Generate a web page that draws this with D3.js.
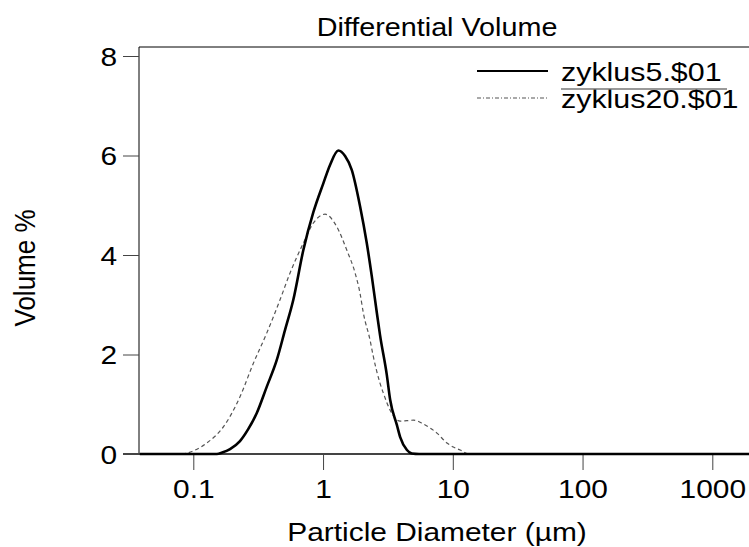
<!DOCTYPE html>
<html>
<head>
<meta charset="utf-8">
<script src="https://cdn.jsdelivr.net/npm/d3@7"></script>
<style>
  body { margin: 0; background: #fff; }
  text { font-family: "Liberation Sans", Arial, sans-serif; fill: #000; }
</style>
</head>
<body>
<svg id="chart" width="749" height="547"></svg>
<script>
// particle diameter (um) and volume %
let diam5 = [0.0387, 0.152, 0.167, 0.192, 0.229, 0.265, 0.308, 0.368, 0.44, 0.509, 0.59, 0.705, 0.842, 1.005, 1.132, 1.311,
	1.478, 1.664, 1.928, 2.172, 2.373, 2.594, 2.749, 3.10, 3.29, 3.71, 3.93, 4.43, 4.84, 5.5, 2000];
let vol5 = [0, 0, 0.03, 0.10, 0.26, 0.50, 0.82, 1.35, 1.89, 2.49, 3.10, 4.10, 4.86, 5.44, 5.81, 6.10,
	5.99, 5.71, 4.98, 4.24, 3.58, 2.85, 2.39, 1.59, 1.09, 0.58, 0.34, 0.08, 0.01, 0, 0];

let diam20 = [0.0387, 0.0841, 0.1035, 0.127, 0.171, 0.229, 0.29, 0.368, 0.466, 0.557, 0.705, 0.841, 1.036, 1.275,
	1.523, 1.765, 1.928, 2.046, 2.303, 2.44, 2.75, 2.92, 3.29, 3.93, 4.43, 4.98, 5.95, 7.55, 9.02, 10.1, 11.4, 12.85, 14, 2000];
let vol20 = [0, 0.01, 0.08, 0.22, 0.55, 1.15, 1.82, 2.43, 3.10, 3.64, 4.24, 4.64, 4.82, 4.57,
	4.10, 3.64, 3.23, 2.83, 2.29, 1.96, 1.42, 1.22, 0.88, 0.66, 0.67, 0.68, 0.60, 0.42, 0.22, 0.14, 0.08, 0.01, 0, 0];

let x_ticks = [0.1, 1, 10, 100, 1000];
let y_ticks = [0, 2, 4, 6, 8];
let series_names = ["zyklus5.$01", "zyklus20.$01"];

let m_left = 139, m_right = 752, m_top = 47, m_bottom = 454;
// the source picture is a bit wider than tall, so text gets stretched
let sx = 1.15;

let svg = d3.select("#chart");

let xScale = d3.scaleLog()
	.domain([0.1, 1000])
	.range([193.3, 712.3]);
let yScale = d3.scaleLinear()
	.domain([0, 8])
	.range([m_bottom, 56]);

// frame
svg.append("path")
	.attr("d", `M${m_left},${m_bottom}V${m_top}H${m_right}`)
	.style("fill", "none")
	.style("stroke", "#000")
	.style("stroke-width", "1px");

// y axis
let yAxis = svg.append("g")
	.attr("transform", `translate(${m_left},0)`)
	.call(d3.axisLeft(yScale).tickValues(y_ticks).tickSize(16).tickPadding(6).tickFormat(d3.format("d")));
yAxis.select(".domain").remove();
yAxis.selectAll("line").style("stroke", "#444");
yAxis.selectAll("text")
	.style("font-size", "26px")
	.attr("dy", "0.36em")
	.attr("x", -22 / sx)
	.attr("transform", `scale(${sx},1)`)
	.attr("font-family", null);

// x axis
let xAxis = svg.append("g")
	.attr("transform", `translate(0,${m_bottom})`)
	.call(d3.axisBottom(xScale).tickValues(x_ticks).tickSize(16).tickPadding(10).tickFormat(d => d));
xAxis.select(".domain")
	.attr("d", `M${m_left - 16},0H${m_right}`)
	.style("stroke", "#444")
	.style("stroke-width", "2px");
xAxis.selectAll("line").style("stroke", "#444");
xAxis.selectAll("text")
	.style("font-size", "26px")
	.attr("transform", `scale(${sx},1)`)
	.attr("font-family", null);

// curves
let line = d3.line()
	.x(d => xScale(d[0]))
	.y(d => yScale(d[1]))
	.curve(d3.curveMonotoneX);

svg.append("path")
	.datum(diam20.map((d, i) => [d, vol20[i]]))
	.attr("d", line)
	.style("fill", "none")
	.style("stroke", "#555")
	.style("stroke-width", "1.2px")
	.style("stroke-dasharray", "4,3");

svg.append("path")
	.datum(diam5.map((d, i) => [d, vol5[i]]))
	.attr("d", line)
	.style("fill", "none")
	.style("stroke", "#000")
	.style("stroke-width", "2.6px");

// legend
let legend = svg.append("g");
series_names.forEach((name, i) => {
	let ly = 71 + i * 27;
	legend.append("line")
		.attr("x1", 477).attr("x2", 548)
		.attr("y1", ly).attr("y2", ly)
		.style("stroke", i == 0 ? "#000" : "#555")
		.style("stroke-width", i == 0 ? "2px" : "1.2px")
		.style("stroke-dasharray", i == 0 ? null : "4,2,1,2");
	legend.append("text")
		.attr("transform", `translate(561,${ly + 10}) scale(1.17,1)`)
		.style("font-size", "26px")
		.text(name);
});
legend.append("line")
	.attr("x1", 561).attr("x2", 727)
	.attr("y1", 89).attr("y2", 89)
	.style("stroke", "#777")
	.style("stroke-width", "1.5px");

// titles
svg.append("text")
	.attr("transform", `translate(437,36) scale(${sx},1)`)
	.attr("text-anchor", "middle")
	.style("font-size", "25px")
	.text("Differential Volume");

svg.append("text")
	.attr("transform", `translate(437,541) scale(${sx},1)`)
	.attr("text-anchor", "middle")
	.style("font-size", "26px")
	.text("Particle Diameter (µm)");

svg.append("text")
	.attr("transform", `translate(35,268) scale(${sx},1) rotate(-90)`)
	.attr("text-anchor", "middle")
	.style("font-size", "26px")
	.text("Volume %");
</script>
</body>
</html>
